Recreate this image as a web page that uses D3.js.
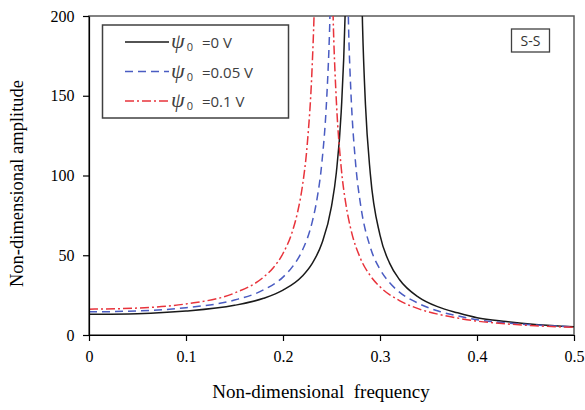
<!DOCTYPE html>
<html>
<head>
<meta charset="utf-8">
<script src="https://cdn.jsdelivr.net/npm/d3@7"></script>
<style>
body{margin:0;background:#fff}
</style>
</head>
<body>
<div id="chart"></div>
<script>
// values
var freq0 = [0,0.05,0.1,0.15,0.18,0.2,0.22,0.23,0.24,0.25,0.255,0.26,0.264,0.266,0.28,0.282,0.285,0.29,0.3,0.31,0.32,0.34,0.36,0.38,0.4,0.43,0.46,0.5]
var amp0  = [13.0,13.4,15.0,18.6,23.0,28.1,37.0,44.8,57.3,80.6,101.9,139.8,200,257,251,194,144.5,101.2,62.6,44.9,34.8,23.6,17.6,13.9,10.8,8.4,6.6,5.2]

var freq05 = [0,0.05,0.1,0.15,0.18,0.2,0.21,0.22,0.23,0.235,0.24,0.245,0.248,0.25,0.266,0.268,0.27,0.275,0.28,0.29,0.3,0.31,0.32,0.34,0.36,0.38,0.4,0.43,0.46,0.5]
var amp05  = [14.5,15.1,17.1,21.9,28.3,36.3,43.0,53.1,70.6,85.1,107.6,147.7,190.8,237,230,183.5,152.3,106.5,81.6,55.0,41.2,32.7,26.9,19.7,15.0,12.0,9.6,7.6,6.3,5.1]

var freq1 = [0,0.05,0.1,0.15,0.18,0.19,0.2,0.21,0.215,0.22,0.225,0.23,0.232,0.234,0.25,0.252,0.255,0.26,0.265,0.27,0.28,0.29,0.3,0.32,0.34,0.36,0.38,0.4,0.43,0.46,0.5]
var amp1  = [16.2,16.9,19.5,26.3,36.3,42.2,51.1,65.6,76.9,93.3,119.5,167.5,200,249,241,192,146.9,105,81.4,66.2,47.8,37.2,30.2,21.6,16.4,13.0,10.6,8.7,7.0,5.8,4.8]

var xTicks = [0,0.1,0.2,0.3,0.4,0.5]
var yTicks = [0,50,100,150,200]
var legendLabels = ["=0 V","=0.05 V","=0.1 V"]

var width = 585
var height = 410
var marge = {top:16,bottom:75,left:89,right:11}
var w = width-marge.left-marge.right
var h = height-marge.top-marge.bottom

var svg = d3.select("#chart").append("svg")
    .attr("width",width)
    .attr("height",height)

var g = svg.append("g")
    .attr("transform","translate("+marge.left+","+marge.top+")")

var xScale = d3.scaleLinear().domain([0,0.5]).range([0,w])
var yScale = d3.scaleLinear().domain([0,200]).range([h,0])

svg.append("defs").append("clipPath").attr("id","clip")
    .append("rect").attr("width",w).attr("height",h)

// frame
g.append("rect")
    .attr("width",w).attr("height",h)
    .attr("fill","none")
    .attr("stroke","#595959")
    .attr("stroke-width",1.5)

var series = [
  {x:freq0, y:amp0, color:"#1a1a1a", dash:null},
  {x:freq05, y:amp05, color:"#4a5cc2", dash:"8,5"},
  {x:freq1, y:amp1, color:"#e8333b", dash:"9,3,2,3"}
]

var line = d3.line()
    .x(function(d){ return xScale(d[0]) })
    .y(function(d){ return yScale(d[1]) })
    .curve(d3.curveMonotoneX)

var lines = g.append("g").attr("clip-path","url(#clip)")
series.forEach(function(s){
  lines.append("path")
    .datum(d3.zip(s.x,s.y))
    .attr("d",line)
    .attr("fill","none")
    .attr("stroke",s.color)
    .attr("stroke-width",1.5)
    .attr("stroke-dasharray",s.dash)
})

var xAxis = d3.axisBottom(xScale).tickValues(xTicks).tickSize(6).tickSizeOuter(0)
    .tickFormat(function(d){ return d===0 ? "0" : d3.format(".1f")(d) })
var yAxis = d3.axisLeft(yScale).tickValues(yTicks).tickSize(6).tickSizeOuter(0)

var gx = g.append("g").attr("transform","translate(0,"+h+")").call(xAxis)
var gy = g.append("g").call(yAxis)
;[gx,gy].forEach(function(a){
  a.select(".domain").attr("stroke","#000").attr("stroke-width",1.2)
  a.selectAll(".tick line").attr("stroke","#000").attr("stroke-width",1.2)
  a.selectAll(".tick text")
    .attr("font-family","'Liberation Serif','Times New Roman',serif")
    .attr("font-size",16).attr("fill","#000")
})
gx.selectAll(".tick text").attr("dy","1.1em")
gy.selectAll(".tick text").attr("dx","-0.35em")

svg.append("text")
    .attr("x",321).attr("y",398)
    .attr("text-anchor","middle")
    .attr("font-family","'Liberation Serif','Times New Roman',serif")
    .attr("font-size",19)
    .attr("xml:space","preserve")
    .text("Non-dimensional  frequency")

svg.append("text")
    .attr("transform","translate(23,"+(marge.top+h/2+8)+") rotate(-90)")
    .attr("text-anchor","middle")
    .attr("font-family","'Liberation Serif','Times New Roman',serif")
    .attr("font-size",18.5)
    .text("Non-dimensional amplitude")

// legend
var lg = svg.append("g")
lg.append("rect")
    .attr("x",102.5).attr("y",25).attr("width",186).attr("height",93)
    .attr("fill","#fff").attr("stroke","#404040").attr("stroke-width",1.5)

series.forEach(function(s,i){
  var yy = 42+i*29.5
  lg.append("line")
    .attr("x1",125).attr("x2",169).attr("y1",yy).attr("y2",yy)
    .attr("stroke",s.color).attr("stroke-width",1.5)
    .attr("stroke-dasharray",s.dash)
  var t = lg.append("text").attr("x",171).attr("y",yy+6)
      .attr("fill","#404040")
  t.append("tspan").text("ψ")
    .attr("font-family","'Liberation Serif','Times New Roman',serif")
    .attr("font-style","italic").attr("font-size",22)
  t.append("tspan").text("0")
    .attr("font-family","'Open Sans',sans-serif")
    .attr("font-size",11).attr("dy",3).attr("dx",2)
  t.append("tspan").text(legendLabels[i])
    .attr("font-family","'Open Sans',sans-serif")
    .attr("font-size",15).attr("dy",-3).attr("dx",9)
})

// S-S box
svg.append("rect")
    .attr("x",511.5).attr("y",29).attr("width",38).attr("height",23)
    .attr("fill","#fff").attr("stroke","#404040").attr("stroke-width",1.3)
svg.append("text")
    .attr("x",530.5).attr("y",46)
    .attr("text-anchor","middle")
    .attr("font-family","'Open Sans',sans-serif")
    .attr("font-size",14).attr("fill","#333")
    .text("S-S")
</script>
</body>
</html>
